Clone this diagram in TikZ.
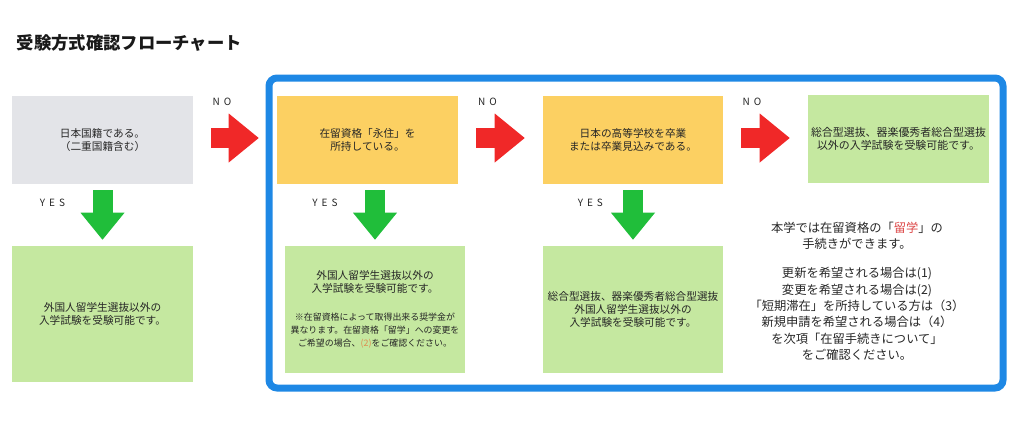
\documentclass[tikz,border=0pt]{standalone}
\usepackage{fontspec}
\setmainfont{Noto Sans CJK JP}
\newfontfamily\spacedfont[LetterSpace=40]{Noto Sans CJK JP}
\definecolor{boxgray}{RGB}{227, 228, 232}
\definecolor{boxyellow}{RGB}{252, 208, 98}
\definecolor{boxgreen}{RGB}{197, 232, 160}
\definecolor{arrowred}{RGB}{240, 40, 40}
\definecolor{arrowgreen}{RGB}{32, 190, 58}
\definecolor{frameblue}{RGB}{30, 136, 229}
\definecolor{notebrown}{RGB}{222, 140, 80}
\definecolor{kanjired}{RGB}{220, 70, 70}
\usetikzlibrary{arrows.meta, positioning}

\tikzset{
  flowbox/.style={inner sep=0pt, minimum width=135.75pt, minimum height=66pt, align=center, text=black!85, font=\fontsize{8}{9.75}\selectfont},
  noarrow/.style={draw=arrowred, line width=15pt, shorten <=13.5pt, shorten >=13.5pt, -{Triangle[length=22.5pt, width=36.75pt, line width=0pt]}},
  yesarrow/.style={draw=arrowgreen, line width=15pt, shorten <=4.5pt, shorten >=4.5pt, -{Triangle[length=20.25pt, width=33pt, line width=0pt]}},
  answer/.style={text=black!85, font=\spacedfont\fontsize{7.5}{9}\selectfont}
}

\begin{document}
\begin{tikzpicture}[x=0.75pt, y=-0.75pt]
  \useasboundingbox (0,0) rectangle (1024,426);

  % Title
  \node[anchor=west, text=black!90, font=\fontsize{13}{15}\selectfont\bfseries] (title) at (12,43) {受験方式確認フローチャート};

  % Frame round the steps after the first question
  \draw[frameblue, line width=5.25pt, rounded corners=6pt] (269,78) rectangle (1003,388);

  % Questions
  \node[flowbox, fill=boxgray] (nationality) at (102.5,140) {日本国籍である。\\（二重国籍含む）};
  \node[flowbox, fill=boxyellow] (residence) at (367.5,140) {在留資格「永住」を\\所持している。};
  \node[flowbox, fill=boxyellow, minimum width=135pt] (highschool) at (633,140) {日本の高等学校を卒業\\または卒業見込みである。};

  % Results
  \node[flowbox, fill=boxgreen, font=\fontsize{8.2}{10}\selectfont] (examfour) at (898.5,139) {総合型選抜、器楽優秀者総合型選抜\\以外の入学試験を受験可能です。};
  \node[flowbox, fill=boxgreen, minimum height=102pt] (examone) at (102.5,314) {外国人留学生選抜以外の\\入学試験を受験可能です。};
  \node[flowbox, fill=boxgreen, minimum width=135pt, minimum height=95.25pt] (examtwo) at (375,309.5) {外国人留学生選抜以外の\\入学試験を受験可能です。\\[11pt]
    {\fontsize{6.7}{10.5}\selectfont ※在留資格によって取得出来る奨学金が}\\
    {\fontsize{6.7}{10.5}\selectfont 異なります。在留資格「留学」への変更を}\\
    {\fontsize{6.7}{10.5}\selectfont ご希望の場合、\textcolor{notebrown}{(2)}をご確認ください。}};
  \node[flowbox, fill=boxgreen, minimum width=135pt, minimum height=95.25pt] (examthree) at (633,309.5) {総合型選抜、器楽優秀者総合型選抜\\外国人留学生選抜以外の\\入学試験を受験可能です。};

  % Note on the residence status
  \node[align=center, text=black!85, font=\fontsize{9.2}{12.2}\selectfont] (info) at (857,291) {
    本学では在留資格の「\textcolor{kanjired}{留学}」の\\
    手続きができます。\\[10pt]
    更新を希望される場合は(1)\\
    変更を希望される場合は(2)\\
    「短期滞在」を所持している方は（3）\\
    新規申請を希望される場合は（4）\\
    を次項「在留手続きについて」\\
    をご確認ください。
  };

  % NO arrows
  \draw[noarrow] ([yshift=1.5pt]nationality.east) -- ([yshift=1.5pt]residence.west) node[pos=.345, yshift=27pt, answer] (no1) {NO};
  \draw[noarrow] ([yshift=1.5pt]residence.east) -- ([yshift=1.5pt]highschool.west) node[pos=.345, yshift=27pt, answer] (no2) {NO};
  \draw[noarrow] ([yshift=1.5pt]highschool.east) -- ([yshift=0.75pt]examfour.west) node[pos=.34, yshift=27pt, answer] (no3) {NO};

  % YES arrows
  \draw[yesarrow] (nationality) -- (examone) node[pos=.31, xshift=-37.5pt, answer] (yes1) {YES};
  \draw[yesarrow] (residence.south -| examtwo.north) -- (examtwo) node[pos=.31, xshift=-37.5pt, answer] (yes2) {YES};
  \draw[yesarrow] (highschool) -- (examthree) node[pos=.31, xshift=-32pt, answer] (yes3) {YES};
\end{tikzpicture}
\end{document}
